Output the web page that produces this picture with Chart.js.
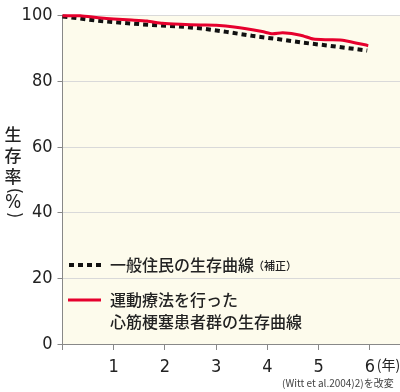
<!DOCTYPE html>
<html><head><meta charset="utf-8">
<script src="https://cdn.jsdelivr.net/npm/chart.js@4"></script>
<style>html,body{margin:0;padding:0;background:#fff}#wrap{width:400px;height:392px;position:relative}</style>
</head><body><div id="wrap"><canvas id="c" width="400" height="392"></canvas></div>
<script>
const exerciseYears = [0, 0.35, 0.7, 1.0, 1.35, 1.65, 1.95, 2.3, 2.7, 3.0, 3.35, 3.9, 4.1, 4.3, 4.65, 4.9, 5.2, 5.5, 5.97];
const exerciseSurvival = [100, 100, 99.4, 99.0, 98.7, 98.4, 97.7, 97.4, 97.2, 97.1, 96.6, 95.2, 94.5, 94.8, 94.1, 92.9, 92.7, 92.5, 90.9];
const generalYears = [0, 0.75, 1.55, 2.25, 2.75, 3.2, 3.7, 4.2, 4.7, 5.2, 5.7, 5.95];
const generalSurvival = [99.8, 98.4, 97.4, 96.8, 96.1, 95.1, 93.9, 92.9, 91.8, 90.9, 89.9, 89.4];
const xTicks = [0, 1, 2, 3, 4, 5, 6];
const yTicks = [0, 20, 40, 60, 80, 100];
const legendGeneral = ['一般住民の生存曲線', '（補正）'];
const legendExercise = ['運動療法を行った', '心筋梗塞患者群の生存曲線'];
const yTitleChars = ['生', '存', '率', '(', '%', ')'];
const xUnit = '(年)';
const sourceText = '(Witt et al.2004)2)を改変';

const RED = '#e6002d';
const JP = '"Noto Sans CJK JP", "Noto Sans", sans-serif';
const NUM = '"Liberation Sans Narrow", "DejaVu Sans Condensed", sans-serif';

const toPts = (xs, ys) => xs.map((x, i) => ({x: x, y: ys[i]}));

const bgPlugin = {
  id: 'bg',
  beforeDraw(chart) {
    const a = chart.chartArea, ctx = chart.ctx;
    ctx.save();
    ctx.fillStyle = '#fdfbec';
    ctx.fillRect(a.left, a.top, a.right - a.left, a.bottom - a.top);
    ctx.restore();
  }
};

const textPlugin = {
  id: 'texts',
  afterDraw(chart) {
    const ctx = chart.ctx;
    const xs = chart.scales.x;
    ctx.save();
    // legend samples
    ctx.lineCap = 'butt';
    ctx.strokeStyle = '#111';
    ctx.lineWidth = 4;
    ctx.setLineDash([5, 4]);
    ctx.beginPath(); ctx.moveTo(69, 265); ctx.lineTo(102, 265); ctx.stroke();
    ctx.setLineDash([]);
    ctx.strokeStyle = RED;
    ctx.lineWidth = 3;
    ctx.beginPath(); ctx.moveTo(68, 300); ctx.lineTo(101, 300); ctx.stroke();
    // legend texts
    ctx.fillStyle = '#222';
    ctx.textBaseline = 'middle';
    ctx.textAlign = 'left';
    ctx.font = '500 16px ' + JP;
    ctx.fillText(legendGeneral[0], 110, 265);
    const w = ctx.measureText(legendGeneral[0]).width;
    ctx.font = '500 11px ' + JP;
    ctx.fillText(legendGeneral[1], 110 + w - 1, 266);
    ctx.font = '500 16px ' + JP;
    ctx.fillText(legendExercise[0], 110, 300);
    ctx.fillText(legendExercise[1], 110, 322);
    // vertical y title
    ctx.textAlign = 'center';
    const ys = [135, 156, 177, 191, 203, 215];
    yTitleChars.forEach((ch, i) => {
      if (ch === '(' || ch === ')') {
        ctx.save();
        ctx.translate(13, ys[i]);
        ctx.rotate(Math.PI / 2);
        ctx.font = '17px ' + NUM;
        ctx.fillText(ch, 0, 0);
        ctx.restore();
      } else if (ch === '%') {
        ctx.font = '19px ' + NUM;
        ctx.fillText(ch, 13, ys[i]);
      } else {
        ctx.font = '500 17px ' + JP;
        ctx.fillText(ch, 13, ys[i]);
      }
    });
    // x unit
    ctx.textAlign = 'left';
    ctx.font = '14px ' + JP;
    ctx.fillText(xUnit, xs.getPixelForValue(6) + 7, 365);
    // source
    ctx.fillStyle = '#444';
    ctx.font = '10px ' + JP;
    ctx.fillText(sourceText, 282, 383);
    ctx.restore();
  }
};

new Chart(document.getElementById('c'), {
  type: 'line',
  data: {
    datasets: [
      {
        label: legendGeneral.join(''),
        data: toPts(generalYears, generalSurvival),
        borderColor: '#111',
        borderWidth: 4,
        borderDash: [5, 4],
        pointRadius: 0,
        tension: 0,
        clip: false,
        order: 2
      },
      {
        label: legendExercise.join(''),
        data: toPts(exerciseYears, exerciseSurvival),
        borderColor: RED,
        borderWidth: 3,
        pointRadius: 0,
        tension: 0.2,
        clip: false,
        order: 1
      }
    ]
  },
  plugins: [bgPlugin, textPlugin],
  options: {
    responsive: false,
    animation: false,
    layout: {padding: {top: 15, right: 0, left: 0, bottom: 0}},
    plugins: {legend: {display: false}, tooltip: {enabled: false}},
    scales: {
      x: {
        type: 'linear',
        min: 0,
        max: 6.59,
        afterBuildTicks(s) { s.ticks = xTicks.map(v => ({value: v})); },
        afterFit(s) { s.height = 48; },
        grid: {drawOnChartArea: false, drawTicks: true, tickLength: 6, tickColor: '#888'},
        border: {color: '#888', width: 1},
        ticks: {
          padding: 7,
          color: '#222',
          font: {family: NUM, size: 18},
          maxRotation: 0,
          callback: v => (v === 0 ? '' : String(v))
        }
      },
      y: {
        min: 0,
        max: 100,
        afterBuildTicks(s) { s.ticks = yTicks.map(v => ({value: v})); },
        afterFit(s) { s.width = 62.5; },
        grid: {color: '#d9d9d9', lineWidth: 1, drawTicks: true, tickLength: 5, tickColor: '#888'},
        border: {color: '#888', width: 1},
        ticks: {
          padding: 5,
          color: '#222',
          font: {family: NUM, size: 18}
        }
      }
    }
  }
});
</script></body></html>
